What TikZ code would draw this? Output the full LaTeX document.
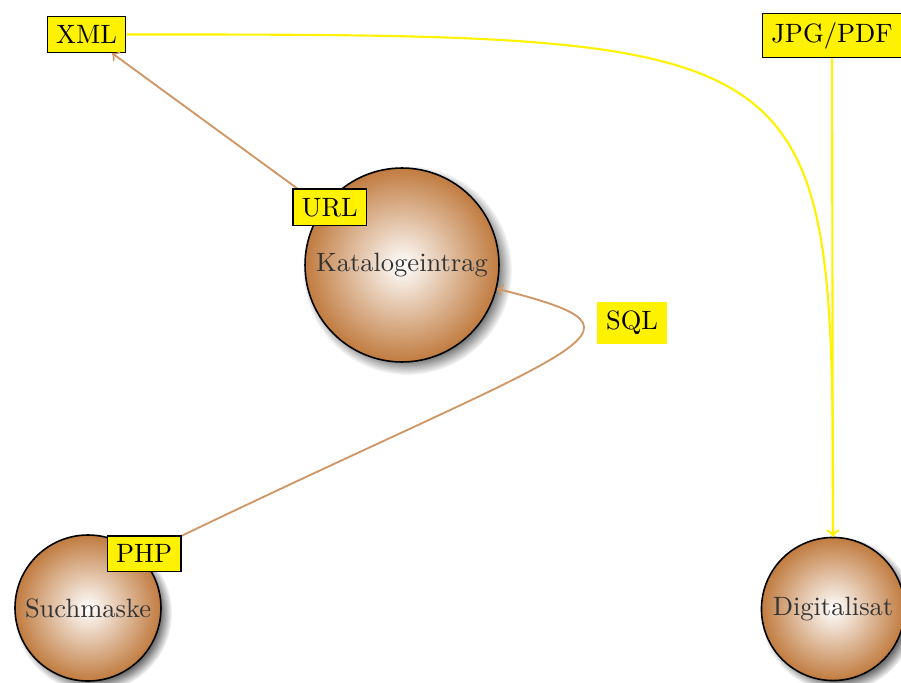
\documentclass[tikz,border=0pt]{standalone}
\usetikzlibrary{shadows,fadings}
\definecolor{kbrown}{RGB}{190,118,56}
\definecolor{klink}{RGB}{208,150,100}
\definecolor{kyellow}{RGB}{255,242,0}
% white core fading to brown at the rim of a circle node
\pgfdeclareradialshading{kball}{\pgfpoint{0bp}{0bp}}{color(0bp)=(white); color(26bp)=(kbrown); color(50bp)=(kbrown)}
\begin{document}
\begin{tikzpicture}[x=0.3774pt,y=-0.3774pt,
  topic/.style={circle, draw=black, line width=0.6pt, shading=kball,
    circular drop shadow={shadow xshift=1.8pt, shadow yshift=-1.8pt, shadow scale=1.08, fill=black!55},
    inner sep=0pt, text=black!80},
  tag/.style={draw=black, line width=0.6pt, fill=kyellow, text=black},
  flow/.style={->, draw=klink, line width=0.7pt},
  feed/.style={->, draw=kyellow, line width=0.8pt}]
\useasboundingbox (0,0) rectangle (901,682);

% topics
\node[topic, minimum size=73.2pt] (kat) at (402,265) {Katalogeintrag};
\node[topic, minimum size=55.1pt] (such) at (88,608) {Suchmaske};
\node[topic, minimum size=54pt] (dig) at (833,609) {Digitalisat};

% formats
\node[tag] (xml) at (86.5,34.5) {XML};
\node[tag] (jpg) at (832,35.5) {JPG/PDF};
\node[fill=kyellow, text=black] (sql) at (632,323) {SQL};

% links
\draw[flow] (kat) -- node[tag, pos=0, xshift=2.5pt] (url) {URL} (xml);
\draw[flow] (such.45) .. controls (589,338) and (675,334) .. (kat.-14)
  node[tag, pos=0, xshift=1.5pt, yshift=0.8pt] (php) {PHP};
\draw[feed] (xml) .. controls (dig |- xml) .. (dig);
\draw[feed] (jpg) -- (dig);
\end{tikzpicture}
\end{document}
